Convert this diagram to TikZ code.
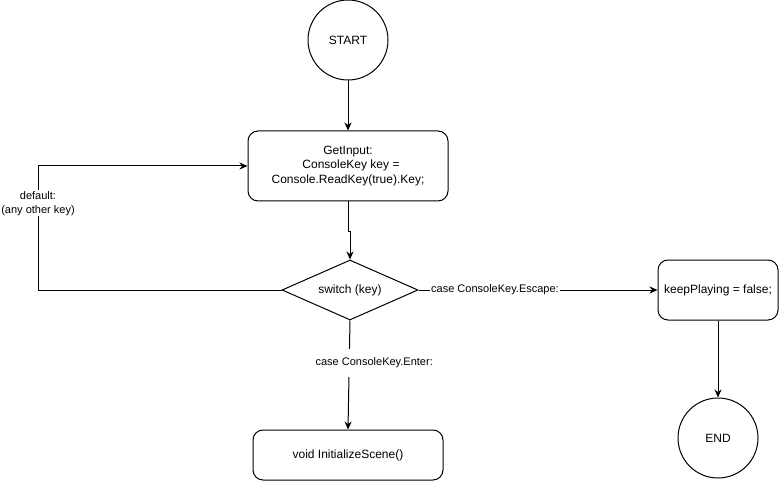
\documentclass[tikz,border=0pt]{standalone}
\usepackage{fontspec}
\setmainfont{Liberation Sans}
\usetikzlibrary{shapes.geometric}
\usetikzlibrary{arrows.meta}
\usetikzlibrary{calc}
\tikzset{terminal/.style={draw,circle,line width=1pt,minimum size=80pt,inner sep=0pt,font=\fontsize{12}{14.4}\selectfont}}
\tikzset{caixa/.style={draw,rounded corners=10pt,line width=1pt,align=center,inner sep=0pt,font=\fontsize{12}{14.4}\selectfont}}
\tikzset{decisao/.style={draw,diamond,aspect=2.27,minimum width=136pt,minimum height=60pt,inner sep=0pt,line width=1pt,font=\fontsize{12}{14.4}\selectfont}}
\tikzset{seta/.style={-{Stealth[length=8pt,width=7pt,inset=2.5pt]},line width=1pt}}
\tikzset{rotulo/.style={fill=white,inner sep=1pt,align=center,font=\fontsize{11}{14}\selectfont}}

\begin{document}
\begin{tikzpicture}[x=1pt,y=-1pt]
	\useasboundingbox (0,0) rectangle (779,481);

	% Os blocos
	\node [terminal] (inicio) at (348,40) {START};
	\node [caixa,minimum width=200pt,minimum height=70pt] (leitura) at (348,166)
		{GetInput:\\ \hspace*{6pt}ConsoleKey key =\\Console.ReadKey(true).Key;};
	\node [decisao] (escolha) at (350,290) {switch (key)};
	\node [caixa,minimum width=120pt,minimum height=60pt] (sair) at (718,290) {keepPlaying = false;};
	\node [terminal] (fim) at (718,438) {END};
	\node [caixa,minimum width=190pt,minimum height=50pt] (cena) at (348,455) {void InitializeScene()};

	% Ponto de retorno
	\coordinate (canto) at (38,290);

	% As setas
	\draw [seta] (inicio.south) -- (leitura.north);
	\draw [seta] (leitura.south) -- ++(0,30) -| (escolha.north);
	\draw [seta] (escolha.west) -- (canto) --
		node [rotulo,pos=0.7] {default:\\(any other key)} (canto |- leitura.west) -- (leitura.west);
	\draw [seta] (escolha.east) -- node [rotulo,pos=0.32] {case ConsoleKey.Escape:} (sair.west);
	\draw [seta] (escolha.south) --
		node [rotulo,pos=0.39,xshift=25pt,inner ysep=9pt] {case ConsoleKey.Enter:} (cena.north);
	\draw [seta] (sair.south) -- (fim.north);

\end{tikzpicture}
\end{document}
